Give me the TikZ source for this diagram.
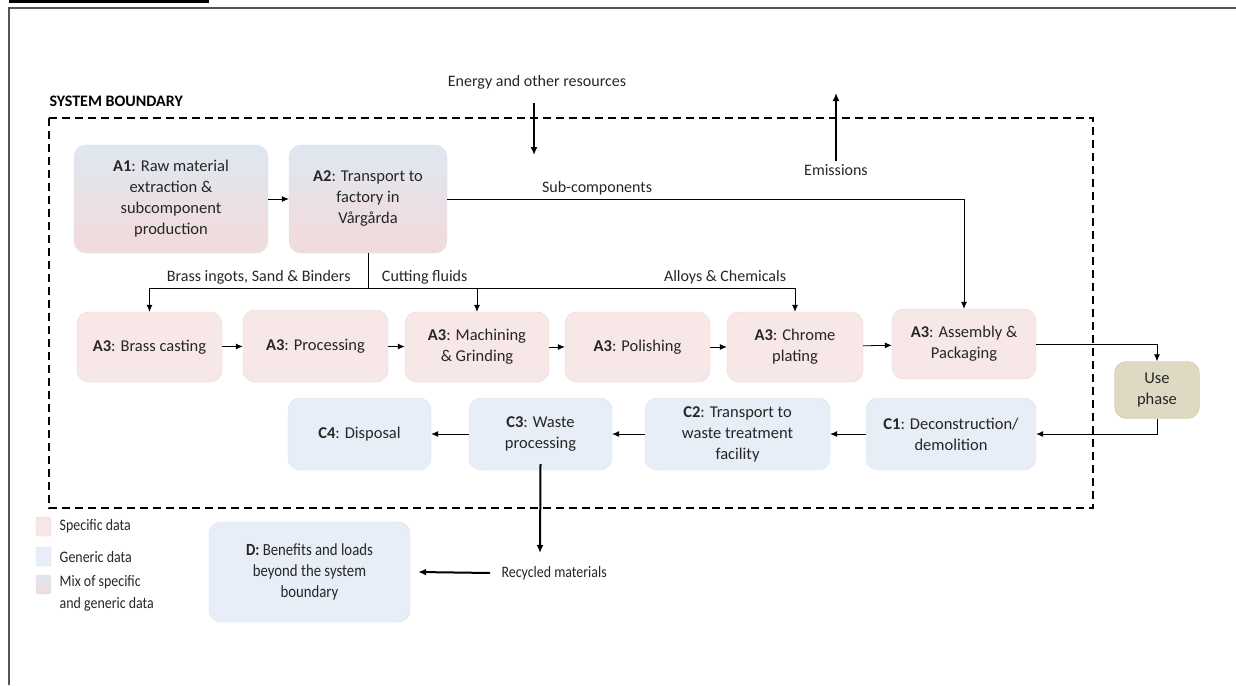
\documentclass[tikz,border=0pt]{standalone}
\usepackage{fontspec}
\setmainfont{Carlito}
\newfontfamily\narrowfont[FakeStretch=0.87]{Carlito}
\usetikzlibrary{arrows.meta}

\definecolor{specfill}{HTML}{F8E7E7}
\definecolor{specline}{HTML}{F0D2D2}
\definecolor{genfill}{HTML}{E8EEF7}
\definecolor{genline}{HTML}{D7E1EE}
\definecolor{usefill}{HTML}{DDD9C3}
\definecolor{useline}{HTML}{CBC49E}
\definecolor{mixtop}{HTML}{DFE7F1}
\definecolor{mixmid}{HTML}{BFC6D0}
\definecolor{mixbot}{HTML}{F3DADA}
\definecolor{framegray}{HTML}{555555}

\tikzset{
	box/.style={rounded corners=12pt, align=center, inner sep=2pt, text=black!85,
		font=\fontsize{16.5}{21}\selectfont},
	spec/.style={box, draw=specline, fill=specfill},
	gen/.style={box, draw=genline, fill=genfill},
	mix/.style={box, draw=genline, top color=mixtop, middle color=mixmid, bottom color=mixbot},
	usebox/.style={box, draw=useline, fill=usefill},
	flow/.style={-{Latex[length=7pt,width=6pt]}, line width=0.8pt},
	bigflow/.style={-{Latex[length=8pt,width=7pt]}, line width=2pt},
	lbl/.style={text=black!85, font=\fontsize{16}{19}\selectfont},
	small/.style={text=black!85, font=\narrowfont\fontsize{16}{19}\selectfont},
	legend/.style={rounded corners=2pt, minimum width=15, minimum height=19, inner sep=0pt},
}

\begin{document}
\begin{tikzpicture}[x=1pt, y=-1pt]
	\useasboundingbox (0,0) rectangle (1236,685);

	% frame
	\fill[black] (9,0) rectangle (209,3);
	\draw[framegray, line width=2pt] (9,685) -- (9,8) -- (1236,8);

	% system boundary
	\node[anchor=west, font=\fontsize{16}{18}\selectfont\bfseries] (sbtitle) at (46,101) {SYSTEM BOUNDARY};
	\draw[dashed, line width=2pt, dash pattern=on 8pt off 5pt] (49,118) rectangle (1093,508);

	% A1, A2
	\node[mix, minimum width=194, minimum height=108] (A1) at (171,199)
		{\textbf{A1}: Raw material\\extraction \&\\subcomponent\\production};
	\node[mix, minimum width=158, minimum height=108] (A2) at (368,199)
		{\textbf{A2}: Transport to\\factory in\\Vårgårda};

	% A3 row
	\node[spec, minimum width=145, minimum height=70] (cast) at (149.5,347) {\textbf{A3}: Brass casting};
	\node[spec, minimum width=145, minimum height=72] (proc) at (315.5,346) {\textbf{A3}: Processing};
	\node[spec, minimum width=144, minimum height=70] (mach) at (477,347) {\textbf{A3}: Machining\\\& Grinding};
	\node[spec, minimum width=145, minimum height=70] (pol) at (637.5,347) {\textbf{A3}: Polishing};
	\node[spec, minimum width=136, minimum height=70] (chrome) at (795,347) {\textbf{A3}: Chrome\\plating};
	\node[spec, minimum width=144, minimum height=70] (assy) at (964,344) {\textbf{A3}: Assembly \&\\Packaging};

	\node[usebox, minimum width=85, minimum height=57] (use) at (1157,390) {Use\\phase};

	% C row
	\node[gen, minimum width=170, minimum height=72] (C1) at (951,434) {\textbf{C1}: Deconstruction/\\demolition};
	\node[gen, minimum width=185, minimum height=72] (C2) at (737.5,434) {\textbf{C2}: Transport to\\waste treatment\\facility};
	\node[gen, minimum width=143, minimum height=72] (C3) at (540.5,434) {\textbf{C3}: Waste\\processing};
	\node[gen, minimum width=143, minimum height=72] (C4) at (359.5,434) {\textbf{C4}: Disposal};

	\node[gen, minimum width=201, minimum height=100, font=\narrowfont\fontsize{17}{21}\selectfont] (D) at (309.5,572)
		{\textbf{D:} Benefits and loads\\beyond the system\\boundary};

	% inputs and outputs
	\node[lbl] (energy) at (537,82) {Energy and other resources};
	\node[lbl] (emis) at (836,170) {Emissions};
	\node[small, anchor=west] (recyc) at (498,573) {Recycled materials};
	\coordinate (enstart) at (534,103);
	\coordinate (enin) at (534,155);
	\coordinate (emout) at (836,93);
	\coordinate (c3out) at (540,553);
	\draw[bigflow] (enstart) -- (enin);
	\draw[bigflow] (emis.north) -- (emout);
	\draw[bigflow] ([yshift=6]C3.south) -- (c3out);
	\draw[bigflow] ([xshift=-8]recyc.west) -- ([xshift=8]D.east);

	% material flows
	\coordinate (split) at (368,288);
	\draw[flow] (A1) -- (A2);
	\draw[flow] (A2.east) -| (assy.north) node[lbl, pos=0.145, above] {Sub-components};
	\draw (A2.south) -- (split);
	\draw[flow] (split) -| (cast.north) node[lbl, pos=0.25, above] {Brass ingots, Sand \& Binders};
	\draw[flow] (split) -| (mach.north) node[lbl, pos=0.26, above] {Cutting fluids};
	\draw[flow] (split -| mach.north) -| (chrome.north) node[lbl, pos=0.39, above] {Alloys \& Chemicals};

	\foreach \a/\b in {cast/proc, proc/mach, mach/pol, pol/chrome, chrome/assy}
		\draw[flow] (\a) -- (\b);
	\draw[flow] (assy.east) -| (use.north);
	\draw[flow] (use.south) |- (C1.east);
	\foreach \a/\b in {C1/C2, C2/C3, C3/C4}
		\draw[flow] (\a) -- (\b);

	% legend
	\node[legend, fill=specfill, draw=specline] (lgspec) at (43.5,526.5) {};
	\node[legend, fill=genfill, draw=genline] (lggen) at (43.5,556.5) {};
	\node[legend, draw=genline, top color=mixtop, middle color=mixmid, bottom color=mixbot] (lgmix) at (43.5,584.5) {};
	\node[small, anchor=west] at ([xshift=5]lgspec.east) {Specific data};
	\node[small, anchor=west] at ([xshift=5]lggen.east) {Generic data};
	\node[small, anchor=north west, align=left, font=\narrowfont\fontsize{16}{22}\selectfont] at ([xshift=5,yshift=3]lgmix.north east) {Mix of specific\\and generic data};
\end{tikzpicture}
\end{document}
